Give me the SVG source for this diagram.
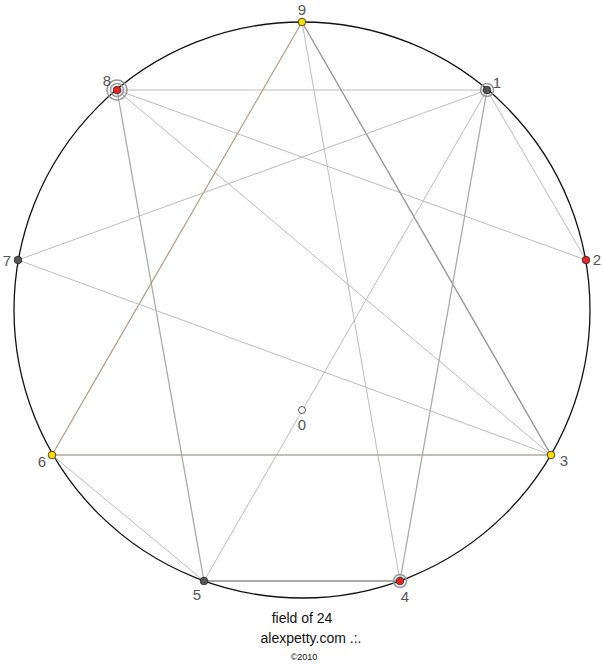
<svg xmlns="http://www.w3.org/2000/svg" width="604" height="666" viewBox="0 0 604 666">
<style>
.ln{stroke:#bbbbbb;stroke-width:1;fill:none}
.lb{font-family:"Liberation Sans",Arial,sans-serif;font-size:15px;fill:#555555;text-anchor:middle}
.ft{font-family:"Liberation Sans",Arial,sans-serif;fill:#111111}
.ring{fill:none;stroke:#999999;stroke-width:1.5}
.dot{stroke:#222222;stroke-width:0.8}
</style>
<rect width="604" height="666" fill="#ffffff"/>
<circle cx="302" cy="310" r="288" fill="none" stroke="#111111" stroke-width="1.3"/>
<g id="connectors">
<line class="ln" x1="117" y1="90" x2="487" y2="90"/>
<line class="ln" x1="117" y1="90" x2="586" y2="260"/>
<line class="ln" x1="117" y1="90" x2="551" y2="455"/>
<line class="ln" x1="117" y1="90" x2="204" y2="581" style="stroke:#aaaaaa;stroke-width:1.3"/>
<line class="ln" x1="302" y1="22" x2="52" y2="455" style="stroke:#b09888;stroke-width:1.2"/>
<line class="ln" x1="302" y1="22" x2="551" y2="455" style="stroke:#959595;stroke-width:1.4"/>
<line class="ln" x1="302" y1="22" x2="400" y2="581"/>
<line class="ln" x1="487" y1="90" x2="18" y2="260"/>
<line class="ln" x1="487" y1="90" x2="586" y2="260"/>
<line class="ln" x1="487" y1="90" x2="400" y2="581" style="stroke:#aaaaaa;stroke-width:1.3"/>
<line class="ln" x1="487" y1="90" x2="204" y2="581"/>
<line class="ln" x1="18" y1="260" x2="551" y2="455"/>
<line class="ln" x1="52" y1="455" x2="551" y2="455" style="stroke:#b0a8a2;stroke-width:1.4"/>
<line class="ln" x1="52" y1="455" x2="204" y2="581"/>
<line class="ln" x1="204" y1="581" x2="400" y2="581" style="stroke:#555555;stroke-width:1.1"/>
</g>
<g id="n9"><circle class="dot" cx="302" cy="22" r="3.8" fill="#ffdd00"/><text class="lb" x="302" y="15">9</text></g>
<g id="n1"><circle class="ring" cx="487" cy="90" r="6.5"/><circle class="dot" cx="487" cy="90" r="3.8" fill="#555555"/><text class="lb" x="497" y="88">1</text></g>
<g id="n2"><circle class="dot" cx="586" cy="260" r="3.8" fill="#ee2222"/><text class="lb" x="597" y="265">2</text></g>
<g id="n3"><circle class="dot" cx="551" cy="455" r="3.8" fill="#ffdd00"/><text class="lb" x="564" y="466">3</text></g>
<g id="n4"><circle class="ring" cx="400" cy="581" r="6.5"/><circle class="dot" cx="400" cy="581" r="3.8" fill="#ee2222"/><text class="lb" x="405" y="602">4</text></g>
<g id="n5"><circle class="dot" cx="204" cy="581" r="3.8" fill="#555555"/><text class="lb" x="197" y="600">5</text></g>
<g id="n6"><circle class="dot" cx="52" cy="455" r="3.8" fill="#ffdd00"/><text class="lb" x="42" y="467">6</text></g>
<g id="n7"><circle class="dot" cx="18" cy="260" r="3.8" fill="#555555"/><text class="lb" x="7" y="266">7</text></g>
<g id="n8"><circle class="ring" cx="117" cy="90" r="10"/><circle class="ring" cx="117" cy="90" r="6.5"/><circle class="dot" cx="117" cy="90" r="3.8" fill="#ee2222"/><text class="lb" x="107" y="86">8</text></g>
<g id="n0"><circle cx="302" cy="410" r="3.5" fill="#ffffff" stroke="#444444" stroke-width="0.9"/><text class="lb" x="302" y="430">0</text></g>
<g id="caption">
<text class="ft" x="302" y="623" font-size="14" text-anchor="middle">field of 24</text>
<text class="ft" x="311" y="643" font-size="14" text-anchor="middle">alexpetty.com .:.</text>
<text class="ft" x="304" y="660" font-size="9" text-anchor="middle">©2010</text>
</g>
</svg>
